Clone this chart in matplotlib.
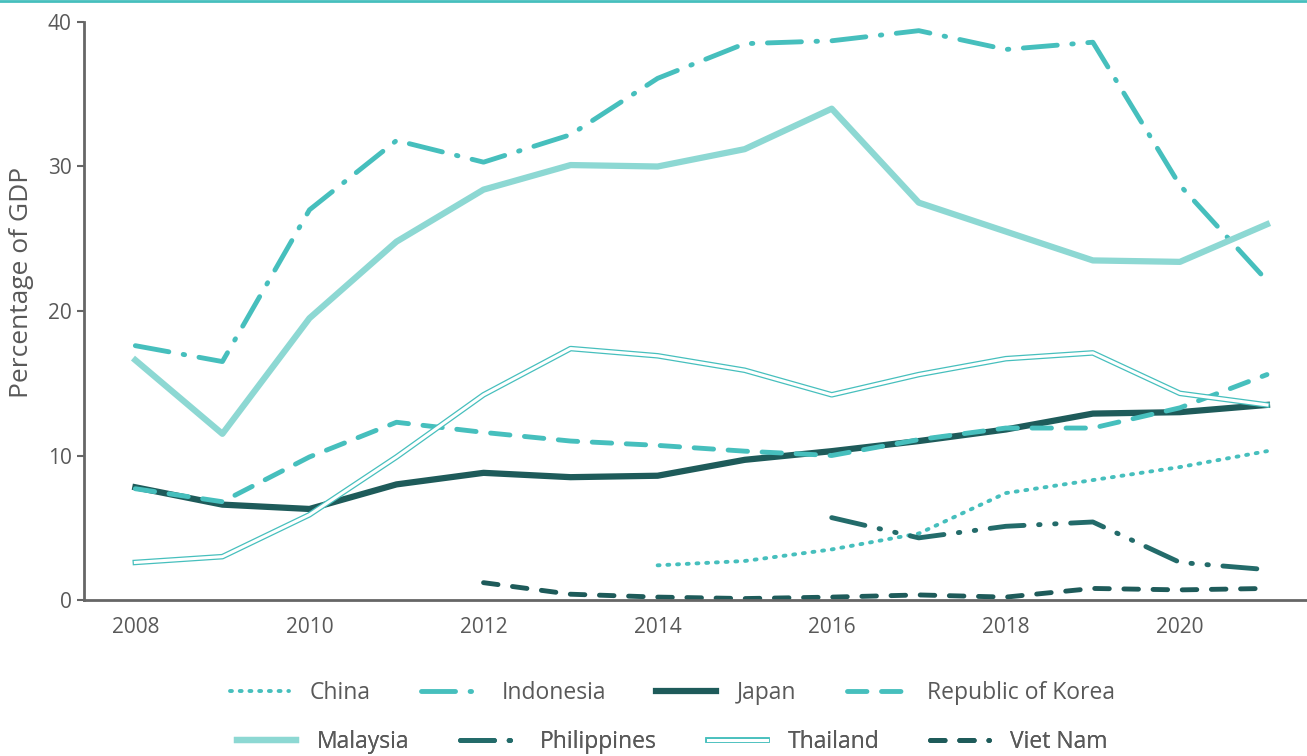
import matplotlib
matplotlib.use("Agg")
import matplotlib.pyplot as plt
import matplotlib.patheffects as pe
from matplotlib.lines import Line2D

plt.rcParams['font.family'] = ['Open Sans', 'DejaVu Sans']

# datos (porcentaje del PIB)
years = list(range(2008, 2022))
indonesia = [17.6, 16.5, 27.0, 31.8, 30.3, 32.2, 36.1, 38.5, 38.7, 39.4, 38.1, 38.6, 28.7, 22.1]
malaysia = [16.6, 11.5, 19.5, 24.8, 28.4, 30.1, 30.0, 31.2, 34.0, 27.5, 25.5, 23.5, 23.4, 26.0]
thailand = [2.6, 3.0, 5.9, 9.9, 14.2, 17.4, 16.9, 15.9, 14.2, 15.6, 16.7, 17.1, 14.3, 13.5]
korea = [7.7, 6.8, 9.9, 12.3, 11.6, 11.0, 10.7, 10.3, 10.0, 11.1, 11.9, 11.9, 13.3, 15.6]
japan = [7.8, 6.6, 6.3, 8.0, 8.8, 8.5, 8.6, 9.7, 10.3, 11.0, 11.8, 12.9, 13.0, 13.5]
china_years = list(range(2014, 2022))
china = [2.4, 2.7, 3.5, 4.6, 7.4, 8.3, 9.2, 10.3]
phil_years = list(range(2016, 2022))
philippines = [5.7, 4.3, 5.1, 5.4, 2.6, 2.1]
vn_years = list(range(2012, 2022))
vietnam = [1.2, 0.4, 0.2, 0.1, 0.2, 0.35, 0.2, 0.8, 0.7, 0.8]

teal = '#46BFBD'
light = '#8DD8D3'
dark = '#1E5B5A'
mid = '#236B6A'
txt = '#595959'

fig = plt.figure(figsize=(13.07, 7.56), dpi=100)
ax = fig.add_axes([84 / 1307, 1 - 600 / 756, 1 - 84 / 1307, (600 - 22) / 756])

h = {}
h['China'], = ax.plot(china_years, china, color=teal, lw=2.8, linestyle=(0, (0.5, 2.0)),
                      dash_capstyle='round')
h['Indonesia'], = ax.plot(years, indonesia, color=teal, lw=3.5, linestyle=(0, (7, 3, 0.3, 3)),
                          dash_capstyle='round')
h['Japan'], = ax.plot(years, japan, color=dark, lw=4.5)
h['Republic of Korea'], = ax.plot(years, korea, color=teal, lw=3.5, linestyle=(0, (4, 3)),
                                  dash_capstyle='round')
h['Malaysia'], = ax.plot(years, malaysia, color=light, lw=4.5)
h['Philippines'], = ax.plot(phil_years, philippines, color=mid, lw=3.5,
                            linestyle=(0, (7, 3, 0.3, 3, 0.3, 3)), dash_capstyle='round')
h['Thailand'], = ax.plot(years, thailand, color='white', lw=2.2,
                         path_effects=[pe.Stroke(linewidth=4.0, foreground=teal), pe.Normal()])
h['Viet Nam'], = ax.plot(vn_years, vietnam, color=dark, lw=3.5, linestyle=(0, (3, 3)),
                         dash_capstyle='round')

ax.set_xlim(2007.41, 2021.46)
ax.set_ylim(0, 40)
ax.set_xticks([2008, 2010, 2012, 2014, 2016, 2018, 2020])
ax.set_yticks([0, 10, 20, 30, 40])
ax.tick_params(axis='x', length=0, pad=12, labelsize=15, labelcolor=txt)
ax.tick_params(axis='y', length=5, width=1.5, color='#666666', pad=4,
               labelsize=15, labelcolor=txt)
for s in ['top', 'right']:
    ax.spines[s].set_visible(False)
for s in ['left', 'bottom']:
    ax.spines[s].set_color('#666666')
    ax.spines[s].set_linewidth(2)
ax.set_ylabel('Percentage of GDP', fontsize=19, color=txt)
ax.yaxis.set_label_coords(-0.041, 0.55)

# dos filas de leyenda, cada una centrada
filas = [(['China', 'Indonesia', 'Japan', 'Republic of Korea'], -0.161),
         (['Malaysia', 'Philippines', 'Thailand', 'Viet Nam'], -0.246)]
for nombres, yy in filas:
    leg = ax.legend([h[k] for k in nombres], nombres, loc='center',
                    bbox_to_anchor=(0.481, yy), ncol=4, frameon=False,
                    fontsize=16.5, labelcolor=txt, handlelength=2.6,
                    columnspacing=2.2, handletextpad=0.9)
    ax.add_artist(leg)

# linea superior
fig.add_artist(Line2D([0, 1], [0.999, 0.999], color=teal, lw=2, transform=fig.transFigure))

fig.savefig('out.png', dpi=100)
